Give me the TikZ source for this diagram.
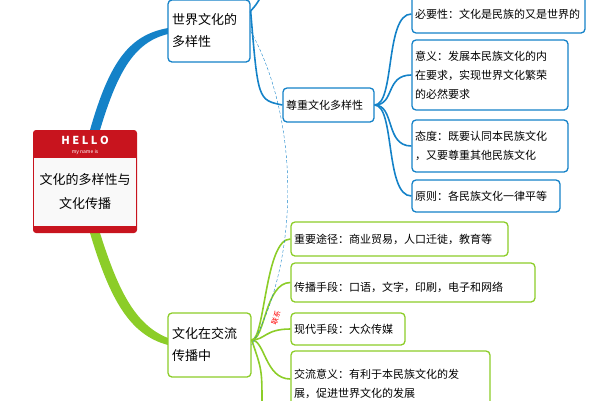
\documentclass[tikz,border=0pt]{standalone}
\usepackage{fontspec}
\setmainfont{Noto Sans CJK SC}
\definecolor{bluebr}{RGB}{20,130,200}
\definecolor{greenbr}{RGB}{140,205,40}
\definecolor{redtag}{RGB}{200,20,30}
\tikzset{
  mapbox/.style={line width=1.3pt, rounded corners=4pt, fill=white, align=left, inner sep=3pt, font=\fontsize{11}{19}\selectfont},
  bluebox/.style={mapbox, draw=bluebr},
  greenbox/.style={mapbox, draw=greenbr},
  bluelink/.style={draw=bluebr, line width=1.6pt},
  greenlink/.style={draw=greenbr, line width=1.6pt}
}
\begin{document}
\begin{tikzpicture}[x=1pt,y=-1pt]
\useasboundingbox (0,0) rectangle (600,400);
% main branches
\fill[bluebr] (90,130) .. controls (110,60) and (130,35) .. (168,28) -- (168,34) .. controls (135,42) and (118,70) .. (100,130) -- cycle;
\fill[greenbr] (90,233) .. controls (110,300) and (130,335) .. (168,345) -- (168,338) .. controls (135,325) and (118,290) .. (100,233) -- cycle;
% root tag
\fill[redtag, rounded corners=3pt] (33,130) rectangle (137,233);
\fill[white!95!gray] (34,158) rectangle (136,226);
\node[white, font=\bfseries\fontsize{11}{11}\selectfont] (hello) at (85,140) {H E L L O};
\node[white, font=\fontsize{5}{5}\selectfont] (myname) at (85,152) {my name is};
\node[align=center, font=\fontsize{13}{24}\selectfont] (root) at (85,192) {文化的多样性与\\文化传播};
% first level
\node[bluebox, font=\fontsize{13}{22}\selectfont, minimum width=82pt, minimum height=62pt, text width=74pt] (div) at (209,31) {世界文化的\\多样性};
\node[greenbox, font=\fontsize{13}{22}\selectfont, minimum width=83pt, minimum height=64pt, text width=75pt] (comm) at (209.5,345) {文化在交流\\传播中};
% blue side
\node[bluebox, minimum width=91pt, minimum height=34pt, text width=85pt] (resp) at (328.5,105) {尊重文化多样性};
\node[bluebox, minimum width=173pt, minimum height=38pt, text width=167pt] (need) at (498.5,14) {必要性：文化是民族的又是世界的};
\node[bluebox, minimum width=156pt, minimum height=70pt, text width=150pt] (mean) at (490,75) {意义：发展本民族文化的内\\在要求，实现世界文化繁荣\\的必然要求};
\node[bluebox, minimum width=156pt, minimum height=52pt, text width=150pt] (att) at (490,146) {态度：既要认同本民族文化\\，又要尊重其他民族文化};
\node[bluebox, minimum width=148pt, minimum height=32pt, text width=142pt] (rule) at (486,196) {原则：各民族文化一律平等};
% green side
\node[greenbox, minimum width=217pt, minimum height=34pt, text width=211pt] (way) at (399.5,239) {重要途径：商业贸易，人口迁徙，教育等};
\node[greenbox, minimum width=244pt, minimum height=39pt, text width=238pt, text height=20pt] (tool) at (413,282.5) {传播手段：口语，文字，印刷，电子和网络};
\node[greenbox, minimum width=114pt, minimum height=32pt, text width=108pt] (modern) at (348,329) {现代手段：大众传媒};
\node[greenbox, minimum width=199pt, minimum height=56pt, text width=193pt, text height=20pt] (sense) at (390.5,379) {交流意义：有利于本民族文化的发\\展，促进世界文化的发展};
% blue connectors
\coordinate (divtop) at (262,-5);
\draw[bluelink] (div.east) ++(0,-20) .. controls (256,5) .. (divtop);
\draw[bluelink] (div.east) ++(0,-20) .. controls (258,100) .. (resp.west);
\foreach \t in {need,mean,att,rule}
  \draw[bluelink] (resp.east) .. controls (395,105) and (385,0|-\t.west) .. (\t.west);
% green connectors
\coordinate (commlow) at (262,405);
\foreach \t in {way,tool,modern,sense}
  \draw[greenlink] (comm.east) ++(0,-5) .. controls (265,340) and (265,0|-\t.west) .. (\t.west);
\draw[greenlink] (comm.east) ++(0,-5) .. controls (262,370) .. (commlow);
% dashed relation
\draw[bluebr, densely dashed, thin] (div.east) .. controls (300,120) and (300,260) .. (comm.east);
\node[red, rotate=70, font=\fontsize{7}{7}\selectfont] (rel) at (276,318) {联系};
\end{tikzpicture}
\end{document}
